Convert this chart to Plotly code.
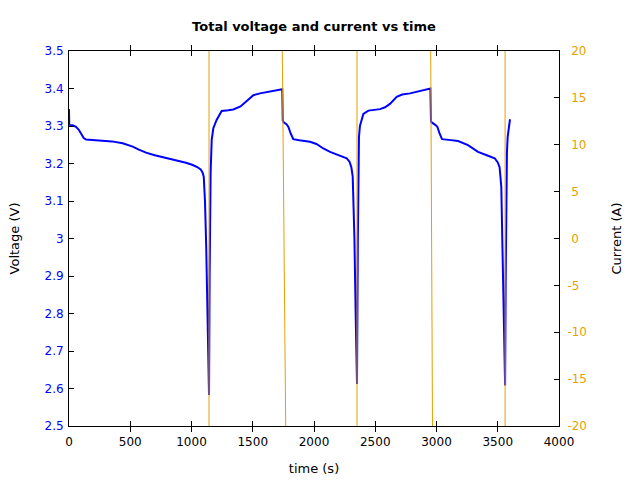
import plotly.graph_objects as go

# Voltage trace (time s, voltage V)
time_v = [0, 2, 30, 57, 80, 98, 120, 139, 248, 350, 438, 520, 570, 629, 700, 792, 880, 955,
          1010, 1050, 1075, 1090, 1100, 1110, 1120, 1130, 1143,
          1148, 1156, 1165, 1178, 1205, 1246, 1300, 1341, 1400, 1437, 1470, 1505, 1559, 1650, 1741,
          1745, 1755, 1775, 1790, 1810, 1831, 1880, 1967, 2020, 2076, 2131, 2200, 2267, 2290, 2305,
          2316, 2330, 2340, 2351,
          2358, 2362, 2367, 2375, 2403, 2444, 2539, 2580, 2620, 2675, 2720, 2784, 2870, 2950,
          2955, 2963, 2990, 3007, 3025, 3045, 3100, 3176, 3257, 3300, 3339, 3410, 3475, 3500, 3515,
          3529, 3540, 3550, 3560,
          3565, 3570, 3575, 3581, 3590, 3600]
voltage = [3.345, 3.303, 3.302, 3.298, 3.29, 3.28, 3.268, 3.264, 3.262, 3.259, 3.254, 3.245, 3.237,
           3.229, 3.222, 3.215, 3.208, 3.202,
           3.196, 3.19, 3.184, 3.176, 3.165, 3.10, 2.98, 2.80, 2.583,
           2.90, 3.175, 3.263, 3.294, 3.316, 3.340, 3.342, 3.344, 3.352, 3.362, 3.372, 3.382, 3.387,
           3.392, 3.398,
           3.315, 3.309, 3.305, 3.298, 3.28, 3.265, 3.262, 3.258, 3.252, 3.240, 3.231, 3.222, 3.214,
           3.205, 3.19, 3.165, 3.0, 2.8, 2.612,
           3.0, 3.209, 3.27, 3.300, 3.332, 3.341, 3.345, 3.35, 3.359, 3.378, 3.384, 3.387, 3.393, 3.40,
           3.312, 3.309, 3.303, 3.298, 3.28, 3.265, 3.263, 3.26, 3.249, 3.24, 3.231, 3.222, 3.214,
           3.203, 3.19, 3.138, 2.95, 2.78, 2.608,
           2.9, 3.17, 3.23, 3.271, 3.30, 3.318]

# Current trace (time s, current A) - values lie beyond the displayed range
time_i = [0, 1143, 1143, 1734, 1776, 2351, 2351, 2949, 2971, 3560, 3560, 3600]
current = [-30, -30, 30, 30, -30, -30, 30, 30, -30, -30, 30, 30]

x_ticks = [0, 500, 1000, 1500, 2000, 2500, 3000, 3500, 4000]
v_ticks = [2.5, 2.6, 2.7, 2.8, 2.9, 3.0, 3.1, 3.2, 3.3, 3.4, 3.5]
v_labels = ["2.5", "2.6", "2.7", "2.8", "2.9", "3", "3.1", "3.2", "3.3", "3.4", "3.5"]
i_ticks = [-20, -15, -10, -5, 0, 5, 10, 15, 20]
i_labels = ["-20", "-15", "-10", "-5", "\u00a00", "\u00a05", "\u00a010", "\u00a015", "\u00a020"]

BLUE = "#0000ff"
ORANGE = "#e69f00"
FONT = "DejaVu Sans"

fig = go.Figure()
fig.add_trace(go.Scatter(x=time_i, y=current, mode="lines", yaxis="y2",
                         line=dict(color=ORANGE, width=1), showlegend=False))
fig.add_trace(go.Scatter(x=time_v, y=voltage, mode="lines", yaxis="y",
                         line=dict(color=BLUE, width=2), showlegend=False))

fig.update_layout(
    width=640, height=480,
    margin=dict(l=69, r=81, t=51, b=54, autoexpand=False),
    paper_bgcolor="white", plot_bgcolor="white",
    font=dict(family=FONT, size=12, color="black"),
    title=dict(text="<b>Total voltage and current vs time</b>", x=0.4906, xanchor="center",
               y=0.944, yanchor="middle", font=dict(size=13, color="black", family=FONT)),
    xaxis=dict(range=[0, 4000], tickvals=x_ticks, ticks="inside", ticklen=5, tickcolor="black",
               showline=True, linecolor="black", linewidth=1, mirror="allticks",
               showgrid=False, zeroline=False, ticklabelstandoff=5, automargin=False,
               tickfont=dict(size=12, color="black"),
               title=dict(text="time (s)", font=dict(size=13), standoff=15)),
    yaxis=dict(range=[2.5, 3.5], tickvals=v_ticks, ticktext=v_labels, ticks="inside", ticklen=5,
               tickcolor="black", showline=True, linecolor="black", linewidth=1, mirror=True,
               showgrid=False, zeroline=False, ticklabelstandoff=2, automargin=False,
               tickfont=dict(size=12, color=BLUE),
               title=dict(text="Voltage (V)", font=dict(size=13), standoff=21)),
    yaxis2=dict(range=[-20, 20], tickvals=i_ticks, ticktext=i_labels, ticks="inside", ticklen=5,
                tickcolor="black", automargin=False,
                overlaying="y", side="right", showline=True, linecolor="black", linewidth=1,
                showgrid=False, zeroline=False, ticklabelstandoff=5,
                tickfont=dict(size=12, color=ORANGE),
                title=dict(text="Current (A)", font=dict(size=13), standoff=25)),
)

fig.write_html("out.html")
